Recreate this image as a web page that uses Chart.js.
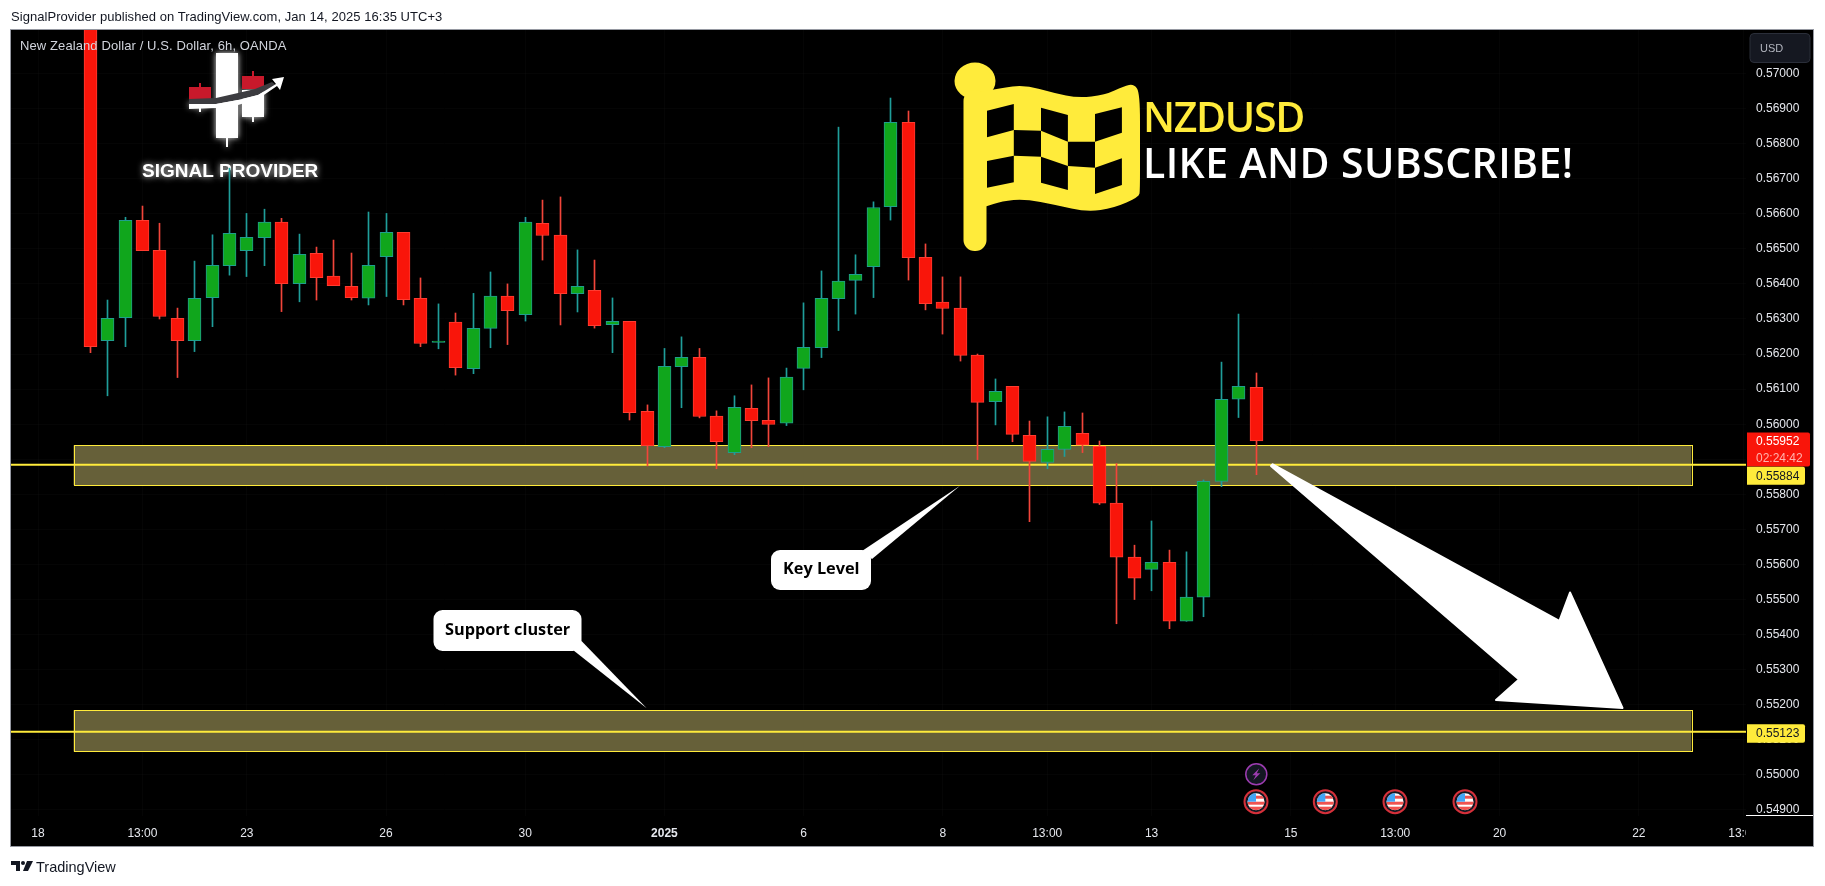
<!DOCTYPE html>
<html>
<head>
<meta charset="utf-8">
<title>NZDUSD</title>
<script src="https://cdn.jsdelivr.net/npm/chart.js@4/dist/chart.umd.min.js"></script>
<style>
  html, body { margin: 0; padding: 0; background: #fff; width: 1825px; height: 886px; overflow: hidden; }
  #chart { position: absolute; left: 0; top: 0; }
  #header { position: absolute; left: 11px; top: 9px; font: 13px "Liberation Sans", sans-serif; letter-spacing: 0.05px; color: #131722; white-space: nowrap; }
  #footer { position: absolute; left: 36px; top: 859px; font: 14.5px "Liberation Sans", sans-serif; color: #131722; white-space: nowrap; }
</style>
</head>
<body>
<canvas id="chart" width="1825" height="886"></canvas>
<div id="header">SignalProvider published on TradingView.com, Jan 14, 2025 16:35 UTC+3</div>
<div id="footer">TradingView</div>
<script>
// 6h candles, oldest first
const opens = [0.57280,0.56238,0.56304,0.56581,0.56496,0.56302,0.56238,0.56361,0.56452,0.56495,0.56532,0.56576,0.56401,0.56487,0.56422,0.56393,0.56359,0.56478,0.56547,0.56359,0.56233,0.56291,0.56158,0.56273,0.56365,0.56312,0.56573,0.56539,0.56372,0.56382,0.56284,0.56293,0.56037,0.55936,0.56164,0.56191,0.56023,0.55919,0.56045,0.56011,0.56003,0.56159,0.56218,0.56358,0.56410,0.56449,0.56620,0.56861,0.56476,0.56348,0.56331,0.56197,0.56064,0.56108,0.55968,0.55891,0.55928,0.55974,0.55937,0.55775,0.55621,0.55586,0.55606,0.55438,0.55507,0.55837,0.56071,0.56105];
const highs = [0.57320,0.56354,0.56590,0.56622,0.56573,0.56331,0.56465,0.56540,0.56730,0.56601,0.56613,0.56587,0.56542,0.56505,0.56525,0.56488,0.56605,0.56601,0.56547,0.56417,0.56343,0.56317,0.56373,0.56434,0.56400,0.56590,0.56639,0.56648,0.56497,0.56468,0.56360,0.56293,0.56055,0.56216,0.56249,0.56216,0.56038,0.56081,0.56112,0.56132,0.56160,0.56346,0.56437,0.56847,0.56483,0.56634,0.56930,0.56893,0.56514,0.56420,0.56420,0.56200,0.56129,0.56108,0.56009,0.56021,0.56035,0.56032,0.55952,0.55888,0.55655,0.55724,0.55641,0.55636,0.55841,0.56177,0.56314,0.56146];
const lows = [0.56204,0.56081,0.56221,0.56495,0.56300,0.56133,0.56207,0.56278,0.56425,0.56421,0.56452,0.56321,0.56349,0.56354,0.56395,0.56354,0.56340,0.56364,0.56340,0.56221,0.56215,0.56140,0.56144,0.56218,0.56227,0.56294,0.56468,0.56283,0.56320,0.56274,0.56204,0.56012,0.55881,0.55933,0.56047,0.56018,0.55873,0.55913,0.55933,0.55936,0.55996,0.56098,0.56190,0.56267,0.56314,0.56361,0.56582,0.56411,0.56326,0.56257,0.56180,0.55899,0.55998,0.55950,0.55722,0.55873,0.55908,0.55919,0.55771,0.55431,0.55500,0.55525,0.55417,0.55438,0.55451,0.55822,0.56019,0.55856];
const closes = [0.56221,0.56302,0.56581,0.56495,0.56307,0.56238,0.56359,0.56453,0.56544,0.56533,0.56576,0.56401,0.56484,0.56418,0.56395,0.56361,0.56453,0.56547,0.56355,0.56230,0.56237,0.56161,0.56273,0.56365,0.56324,0.56576,0.56538,0.56372,0.56393,0.56281,0.56293,0.56033,0.55939,0.56165,0.56191,0.56022,0.55950,0.56048,0.56010,0.55999,0.56134,0.56219,0.56359,0.56408,0.56427,0.56618,0.56861,0.56475,0.56344,0.56330,0.56196,0.56062,0.56094,0.55971,0.55894,0.55928,0.55994,0.55940,0.55775,0.55621,0.55561,0.55606,0.55438,0.55507,0.55837,0.56071,0.56108,0.55952];

const priceTicks = [0.570,0.569,0.568,0.567,0.566,0.565,0.564,0.563,0.562,0.561,0.560,0.559,0.558,0.557,0.556,0.555,0.554,0.553,0.552,0.551,0.550,0.549];
const timeTickBars = [-3,3,9,17,25,33,41,49,55,61,69,75,81,89,95];
const timeTickLabels = ['18','13:00','23','26','30','2025','6','8','13:00','13','15','13:00','20','22','13:00'];

const keyLevels = [0.55884, 0.55123];
const zoneTops = [0.55940, 0.551845];
const zoneBottoms = [0.55826, 0.550665];
const zoneStartBar = -0.96;
const zoneEndBar = 92.02;
const lastPrice = 0.55952;

const RED = '#f9150a', RED_EDGE = '#ff3b30', RED_WICK = '#f2453a';
const GREEN = '#10a61c', GREEN_EDGE = '#1f9e8d', GREEN_WICK = '#1f9e9a';
const YELLOW = '#ffeb3b', ZONE_FILL = '#666039';
const UI_FONT = '"Liberation Sans", sans-serif';

const isUp = opens.map((o, i) => closes[i] >= o);

function smoothShape(ctx, pts) {
    ctx.beginPath();
    ctx.moveTo(pts[0][0], pts[0][1]);
    for (let i = 1; i < pts.length - 1; i++) {
        const mx = (pts[i][0] + pts[i + 1][0]) / 2;
        const my = (pts[i][1] + pts[i + 1][1]) / 2;
        ctx.quadraticCurveTo(pts[i][0], pts[i][1], mx, my);
    }
    ctx.lineTo(pts[pts.length - 1][0], pts[pts.length - 1][1]);
}

function polygon(ctx, pts) {
    ctx.beginPath();
    pts.forEach((p, i) => i ? ctx.lineTo(p[0], p[1]) : ctx.moveTo(p[0], p[1]));
    ctx.closePath();
    ctx.fill();
}

function drawLogo(ctx) {
    ctx.save();
    ctx.shadowColor = 'rgba(255,255,255,0.9)';
    ctx.shadowBlur = 6;
    ctx.fillStyle = '#fff';
    ctx.fillRect(216, 53, 22, 85);
    ctx.fillRect(226, 138, 2, 9);
    ctx.fillRect(242, 90, 22, 27);
    ctx.fillRect(252, 117, 2, 5);
    ctx.fillRect(189, 103, 22, 4);
    ctx.fillRect(199, 107, 2, 5);
    ctx.shadowBlur = 0;
    ctx.fillStyle = '#c8192b';
    ctx.fillRect(189, 87, 22, 12);
    ctx.fillRect(199, 83, 2, 4);
    ctx.fillRect(242, 76, 22, 13);
    ctx.fillRect(252, 71, 2, 5);
    ctx.fillStyle = '#3c3c40';
    polygon(ctx, [[189, 99], [216, 98], [238, 93], [255, 89], [272, 82], [276, 85], [258, 95], [238, 100], [216, 104], [189, 104]]);
    ctx.fillStyle = '#fff';
    polygon(ctx, [[189, 104], [216, 104], [238, 100], [258, 95], [276, 84], [272, 79], [284, 77], [280, 90], [277, 86], [258, 99], [238, 105], [216, 108], [189, 109]]);
    ctx.shadowColor = 'rgba(255,255,255,0.9)';
    ctx.shadowBlur = 6;
    ctx.font = 'bold 19px ' + UI_FONT;
    ctx.textAlign = 'left';
    ctx.textBaseline = 'middle';
    ctx.fillText('SIGNAL PROVIDER', 142, 172);
    ctx.restore();
}

function drawFlag(ctx) {
    ctx.save();
    ctx.fillStyle = YELLOW;
    ctx.beginPath();
    ctx.ellipse(975, 81, 20.5, 18.5, 0, 0, Math.PI * 2);
    ctx.fill();
    ctx.beginPath();
    ctx.roundRect(963.5, 90, 23, 161, 11);
    ctx.fill();
    smoothShape(ctx, [[980, 92], [1000, 88], [1025, 85], [1054, 93], [1078, 98], [1105, 95], [1124, 86], [1134, 84], [1140, 93], [1140, 150], [1140, 190], [1139, 197], [1114, 208], [1087, 212], [1056, 205], [1025, 199], [1002, 201], [985, 207], [980, 207]]);
    ctx.closePath();
    ctx.fill();
    const cols = [987, 1013.8, 1041, 1067.9, 1095, 1121.9];
    const rowLines = [
        [110.7, 104, 107.7, 115, 114, 107.3],
        [137.3, 130, 130.7, 141.7, 141.7, 132.7],
        [161, 155.7, 156.7, 166, 167.7, 158.3],
        [187.7, 182.3, 182.7, 190, 194, 185]
    ];
    ctx.fillStyle = '#000';
    [[0, 0], [0, 2], [0, 4], [1, 1], [1, 3], [2, 0], [2, 2], [2, 4]].forEach(([r, c]) => {
        polygon(ctx, [
            [cols[c], rowLines[r][c]],
            [cols[c + 1], rowLines[r][c + 1]],
            [cols[c + 1], rowLines[r + 1][c + 1]],
            [cols[c], rowLines[r + 1][c]]
        ]);
    });
    ctx.textAlign = 'left';
    ctx.textBaseline = 'alphabetic';
    ctx.font = '600 41px "Open Sans", sans-serif';
    ctx.fillStyle = YELLOW;
    ctx.letterSpacing = '-1.3px';
    ctx.fillText('NZDUSD', 1143, 132);
    ctx.fillStyle = '#fff';
    ctx.letterSpacing = '0.4px';
    ctx.fillText('LIKE AND SUBSCRIBE!', 1143, 178);
    ctx.letterSpacing = '0px';
    ctx.restore();
}

function drawCallout(ctx, box, tail, text, textX, textY) {
    ctx.save();
    ctx.fillStyle = '#fff';
    ctx.beginPath();
    ctx.roundRect(box[0], box[1], box[2], box[3], 9);
    ctx.fill();
    polygon(ctx, tail);
    ctx.fillStyle = '#000';
    ctx.font = 'bold 16.3px "Open Sans", sans-serif';
    ctx.textAlign = 'left';
    ctx.textBaseline = 'middle';
    ctx.fillText(text, textX, textY);
    ctx.restore();
}

function drawUsEvent(ctx, x, y) {
    ctx.save();
    ctx.beginPath();
    ctx.arc(x, y, 11.5, 0, Math.PI * 2);
    ctx.fillStyle = '#131722';
    ctx.fill();
    ctx.strokeStyle = '#d5303a';
    ctx.lineWidth = 2;
    ctx.stroke();
    ctx.beginPath();
    ctx.arc(x, y, 8.5, 0, Math.PI * 2);
    ctx.clip();
    ctx.fillStyle = '#fff';
    ctx.fillRect(x - 9, y - 9, 18, 18);
    ctx.fillStyle = '#ef5350';
    ctx.fillRect(x - 9, y - 6, 18, 3);
    ctx.fillRect(x - 9, y, 18, 3);
    ctx.fillRect(x - 9, y + 5, 18, 4);
    ctx.fillStyle = '#42a5f5';
    ctx.fillRect(x - 9, y - 9, 9, 9);
    ctx.restore();
}

function drawBoltEvent(ctx, x, y) {
    ctx.save();
    ctx.beginPath();
    ctx.arc(x, y, 10.5, 0, Math.PI * 2);
    ctx.fillStyle = '#131722';
    ctx.fill();
    ctx.strokeStyle = '#9c3cb0';
    ctx.lineWidth = 1.5;
    ctx.stroke();
    ctx.fillStyle = '#9c3cb0';
    polygon(ctx, [[x + 3, y - 6], [x - 4, y + 1], [x - 0.5, y + 1], [x - 3, y + 6], [x + 4, y - 1], [x + 0.5, y - 1]]);
    ctx.restore();
}

function priceTag(ctx, y, h, w, fill, color, lines) {
    ctx.save();
    ctx.fillStyle = fill;
    ctx.beginPath();
    ctx.roundRect(1747, y, w, h, [0, 2, 2, 0]);
    ctx.fill();
    ctx.fillStyle = color;
    ctx.font = '12px ' + UI_FONT;
    ctx.textAlign = 'left';
    ctx.textBaseline = 'middle';
    lines.forEach((l, i) => {
        ctx.fillStyle = i ? '#ffb3ad' : color;
        ctx.fillText(l, 1756, y + h / (lines.length * 2) * (2 * i + 1) + 0.5);
    });
    ctx.restore();
}

// pane background, zones and whatever else sits behind the candles
const paneBack = {
    id: 'paneBack',
    beforeDraw(chart) {
        const ctx = chart.ctx;
        ctx.save();
        ctx.fillStyle = '#000';
        ctx.fillRect(11, 30, 1802, 816);
        ctx.restore();
    },
    beforeDatasetsDraw(chart) {
        const ctx = chart.ctx;
        const x = chart.scales.x, y = chart.scales.y;
        const left = x.getPixelForValue(zoneStartBar), right = x.getPixelForValue(zoneEndBar);
        ctx.save();
        zoneTops.forEach((top, i) => {
            const yTop = y.getPixelForValue(top), yBot = y.getPixelForValue(zoneBottoms[i]);
            ctx.fillStyle = ZONE_FILL;
            ctx.fillRect(left, yTop, right - left, yBot - yTop);
            ctx.strokeStyle = YELLOW;
            ctx.lineWidth = 1;
            ctx.strokeRect(Math.round(left) + 0.5, Math.round(yTop) + 0.5, Math.round(right - left), Math.round(yBot - yTop));
        });
        ctx.restore();
        drawLogo(ctx);
    },
    // keep candle edges on whole pixels like the original
    beforeDatasetDraw(chart, args) {
        if (args.meta.type !== 'bar') return;
        args.meta.data.forEach(el => { el.x = Math.round(el.x - 0.5) + 0.5; });
    }
};

// everything drawn on top of the candles
const paneFront = {
    id: 'paneFront',
    afterDatasetsDraw(chart) {
        const ctx = chart.ctx;
        const y = chart.scales.y;
        ctx.save();
        ctx.fillStyle = '#000';
        ctx.fillRect(1746, 815, 67, 31);
        ctx.fillStyle = '#fff';
        ctx.fillRect(1746, 815, 67, 1);
        ctx.fillStyle = '#d1d4dc';
        ctx.font = '13px ' + UI_FONT;
        ctx.letterSpacing = '0.1px';
        ctx.textBaseline = 'middle';
        ctx.fillText('New Zealand Dollar / U.S. Dollar, 6h, OANDA', 20, 46);
        ctx.letterSpacing = '0px';

        // button over the price axis
        ctx.fillStyle = '#151821';
        ctx.strokeStyle = '#2a2e39';
        ctx.beginPath();
        ctx.roundRect(1750, 33.5, 60, 29, 4);
        ctx.fill();
        ctx.stroke();
        ctx.fillStyle = '#b2b5be';
        ctx.font = '11px ' + UI_FONT;
        ctx.fillText('USD', 1760, 49);

        // pane frame
        ctx.strokeStyle = '#9598a1';
        ctx.lineWidth = 1;
        ctx.strokeRect(10.5, 29.5, 1803, 817);

        // TradingView mark in the footer
        ctx.fillStyle = '#131722';
        ctx.fillRect(11, 861, 9, 4);
        ctx.fillRect(16, 861, 4, 10);
        ctx.beginPath();
        ctx.arc(23, 863, 2, 0, Math.PI * 2);
        ctx.fill();
        polygon(ctx, [[27, 861], [33, 861], [28, 871], [23, 871]]);
        ctx.restore();

        drawFlag(ctx);

        drawCallout(ctx, [771, 550, 100, 40],
            [[862, 551], [960, 485.7], [872, 559]], 'Key Level', 783, 569);
        drawCallout(ctx, [433.5, 610, 148, 41],
            [[573, 650], [646.7, 708.3], [581.5, 641]], 'Support cluster', 445, 630);

        // the big down arrow
        ctx.save();
        ctx.fillStyle = '#fff';
        ctx.strokeStyle = '#fff';
        ctx.lineWidth = 2;
        ctx.lineJoin = 'round';
        const arrow = [[1272.7, 464.3], [1559.3, 621], [1570, 592.5], [1622.5, 708], [1496, 700], [1519, 679.5], [1271, 466]];
        polygon(ctx, arrow);
        ctx.stroke();
        ctx.restore();

        drawBoltEvent(ctx, 1256.3, 774.3);
        [1256, 1325.3, 1395, 1465].forEach(px => drawUsEvent(ctx, px, 801.7));

        priceTag(ctx, y.getPixelForValue(lastPrice) - 8.5, 34, 63, '#f9150a', '#fff', [lastPrice.toFixed(5), '02:24:42']);
        priceTag(ctx, y.getPixelForValue(keyLevels[0]) + 2, 18, 58, YELLOW, '#131722', [keyLevels[0].toFixed(5)]);
        priceTag(ctx, y.getPixelForValue(keyLevels[1]) - 7.5, 18.5, 58, YELLOW, '#131722', [keyLevels[1].toFixed(5)]);
    }
};

new Chart(document.getElementById('chart'), {
    data: {
        datasets: [
            {
                type: 'bar',
                label: 'Body',
                order: 1,
                data: opens.map((o, i) => ({ x: i, y: [o, closes[i]] })),
                backgroundColor: isUp.map(u => u ? GREEN : RED),
                borderColor: isUp.map(u => u ? GREEN_EDGE : RED_EDGE),
                borderWidth: 1,
                borderSkipped: false,
                barThickness: 13,
                grouped: false
            },
            {
                type: 'bar',
                label: 'Wick',
                order: 2,
                data: lows.map((l, i) => ({ x: i, y: [l, highs[i]] })),
                backgroundColor: isUp.map(u => u ? GREEN_WICK : RED_WICK),
                borderWidth: 0,
                barThickness: 1,
                grouped: false
            },
            ...keyLevels.map(level => ({
                type: 'line',
                label: 'Level',
                order: 3,
                data: [{ x: -5, y: level }, { x: 96, y: level }],
                borderColor: YELLOW,
                borderWidth: 2,
                pointRadius: 0
            }))
        ]
    },
    options: {
        responsive: false,
        animation: false,
        events: [],
        layout: { padding: { left: 11, top: 30, right: 12, bottom: 40 } },
        plugins: { legend: { display: false }, tooltip: { enabled: false } },
        scales: {
            x: {
                type: 'linear',
                offset: false,
                min: -4.552,
                max: 95.16,
                afterFit(axis) { axis.height = 30; },
                afterBuildTicks(axis) { axis.ticks = timeTickBars.map(v => ({ value: v })); },
                grid: { color: 'rgba(255,255,255,0.02)', drawTicks: false, offset: false },
                border: { display: false },
                ticks: {
                    autoSkip: false,
                    maxRotation: 0,
                    padding: 10,
                    color: '#e6e8ee',
                    font: ctx => ({ family: UI_FONT, size: 12, weight: ctx.tick && ctx.tick.value === 33 ? 'bold' : 'normal' }),
                    callback: value => timeTickLabels[timeTickBars.indexOf(value)]
                }
            },
            y: {
                position: 'right',
                min: 0.548828,
                max: 0.57124,
                afterFit(axis) { axis.width = 67; },
                afterBuildTicks(axis) { axis.ticks = priceTicks.map(v => ({ value: v })); },
                grid: { color: 'rgba(255,255,255,0.02)', drawTicks: false },
                border: { display: false },
                ticks: {
                    padding: 10,
                    color: '#e6e8ee',
                    font: { family: UI_FONT, size: 12 },
                    callback: value => value.toFixed(5)
                }
            }
        }
    },
    plugins: [paneBack, paneFront]
});
</script>
</body>
</html>
